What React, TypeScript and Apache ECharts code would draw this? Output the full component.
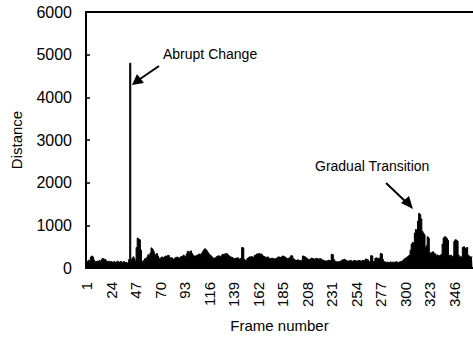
import React, { useEffect, useRef } from "react";
import * as echarts from "echarts";

// Distance per frame (frames 1..363)
const distance: number[] = [
  120, 150, 180, 160, 250, 280, 260, 190, 150, 140,
  160, 150, 170, 140, 190, 220, 210, 200, 190, 150,
  140, 160, 130, 150, 140, 120, 150, 130, 140, 160,
  140, 130, 150, 140, 120, 150, 130, 140, 120, 110,
  200, 4800, 180, 220, 260, 210, 150, 480, 700, 680,
  660, 420, 160, 120, 180, 220, 200, 260, 310, 280,
  350, 470, 440, 390, 320, 300, 340, 280, 230, 200,
  240, 260, 230, 250, 280, 260, 290, 300, 250, 220,
  240, 210, 200, 230, 250, 260, 240, 220, 250, 270,
  260, 300, 280, 250, 330, 390, 380, 360, 400, 340,
  300, 280, 270, 290, 300, 320, 330, 310, 340, 380,
  420, 450, 430, 400, 360, 330, 300, 280, 250, 230,
  220, 240, 260, 280, 290, 270, 280, 300, 320, 330,
  310, 340, 330, 300, 280, 260, 250, 240, 220, 210,
  230, 220, 240, 210, 200, 230, 480, 470, 200, 180,
  190, 220, 240, 260, 250, 270, 240, 260, 300, 310,
  330, 320, 340, 310, 330, 300, 270, 260, 250, 240,
  260, 230, 220, 210, 230, 220, 210, 200, 230, 240,
  260, 250, 240, 260, 280, 270, 260, 240, 220, 210,
  230, 250, 290, 280, 220, 200, 180, 170, 190, 180,
  170, 180, 190, 280, 270, 260, 240, 220, 200, 190,
  210, 230, 220, 210, 200, 220, 230, 210, 200, 220,
  210, 190, 180, 170, 160, 170, 160, 180, 170, 180,
  320, 310, 200, 160, 150, 140, 150, 140, 160, 150,
  190, 200, 210, 180, 170, 160, 170, 180, 170, 160,
  170, 180, 170, 160, 170, 180, 170, 160, 170, 180,
  170, 180, 210, 200, 190, 150, 160, 290, 280, 150,
  160, 230, 240, 220, 230, 240, 340, 330, 200, 150,
  140, 130, 140, 130, 120, 140, 130, 140, 130, 140,
  150, 140, 130, 140, 150, 140, 160, 180, 200, 230,
  230, 260, 280, 300, 420, 560, 600, 580, 820, 900,
  880, 1100, 1280, 1250, 1150, 860, 820, 780, 480, 520,
  730, 700, 360, 330, 360, 380, 350, 330, 300, 310,
  290, 280, 300, 320, 560, 700, 730, 720, 690, 650,
  300, 280, 300, 270, 280, 620, 660, 650, 630, 300,
  260, 270, 250, 480, 500, 470, 450, 480, 300, 280,
  260, 250, 270,
];

const frames: string[] = distance.map((_, i) => String(i + 1));
const yTicks = { min: 0, max: 6000, interval: 1000 };
const xLabelStep = 23;

const FONT = "Liberation Sans";

export default function App() {
  const ref = useRef<HTMLDivElement>(null);
  useEffect(() => {
    if (!ref.current) return;
    const chart = echarts.init(ref.current, null, { renderer: "svg" });
    chart.setOption({
      animation: false,
      backgroundColor: "#ffffff",
      grid: {
        left: 86,
        right: 0,
        top: 12,
        bottom: 70,
        containLabel: false,
        outerBoundsMode: "none",
      },
      xAxis: [
        {
          type: "category",
          data: frames,
          boundaryGap: true,
          name: "Frame number",
          nameLocation: "middle",
          nameGap: 50,
          nameTextStyle: { fontFamily: FONT, fontSize: 15, color: "#000" },
          axisLine: { show: true, lineStyle: { color: "#000", width: 2 } },
          axisTick: { show: false },
          axisLabel: {
            interval: xLabelStep - 1,
            rotate: 90,
            margin: 14,
            fontFamily: FONT,
            fontSize: 15,
            color: "#000",
          },
        },
        {
          type: "category",
          data: frames,
          position: "top",
          axisLine: { show: true, lineStyle: { color: "#000", width: 2 } },
          axisTick: { show: false },
          axisLabel: { show: false },
        },
      ],
      yAxis: {
        type: "value",
        min: yTicks.min,
        max: yTicks.max,
        interval: yTicks.interval,
        name: "Distance",
        nameLocation: "middle",
        nameGap: 62,
        nameTextStyle: { fontFamily: FONT, fontSize: 15, color: "#000" },
        axisLine: { show: true, lineStyle: { color: "#000", width: 2 } },
        axisTick: { show: true, inside: true, length: 4, lineStyle: { color: "#000", width: 1.5 } },
        splitLine: { show: false },
        axisLabel: {
          margin: 14,
          fontFamily: FONT,
          fontSize: 16,
          color: "#000",
          formatter: (v: number) => String(v),
        },
      },
      series: [
        {
          type: "line",
          data: distance,
          step: "middle",
          symbol: "none",
          lineStyle: { color: "#000", width: 1 },
          areaStyle: { color: "#000", opacity: 1 },
        },
      ],
      graphic: [
        {
          type: "text",
          left: 163,
          top: 47,
          style: { text: "Abrupt Change", fontFamily: FONT, fontSize: 14, fill: "#000" },
        },
        {
          type: "line",
          shape: { x1: 159, y1: 66, x2: 140, y2: 79 },
          style: { stroke: "#000", lineWidth: 2 },
        },
        {
          type: "polygon",
          shape: { points: [[132, 85], [137, 74], [144, 83]] },
          style: { fill: "#000" },
        },
        {
          type: "text",
          left: 315,
          top: 159,
          style: { text: "Gradual Transition", fontFamily: FONT, fontSize: 14, fill: "#000" },
        },
        {
          type: "line",
          shape: { x1: 386, y1: 183, x2: 406, y2: 202 },
          style: { stroke: "#000", lineWidth: 2 },
        },
        {
          type: "polygon",
          shape: { points: [[413, 209], [401, 203], [409, 196]] },
          style: { fill: "#000" },
        },
      ],
    });
    return () => chart.dispose();
  }, []);
  return (
    <div
      ref={ref}
      style={{ position: "absolute", left: 0, top: 0, width: 473, height: 338 }}
    />
  );
}
